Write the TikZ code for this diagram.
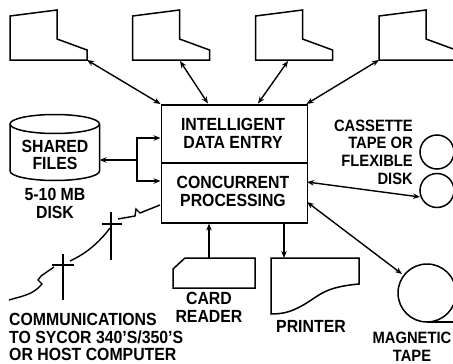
\documentclass[tikz,border=0pt]{standalone}
\usepackage{fontspec}
\setmainfont[FakeStretch=0.9]{Liberation Sans}
\usetikzlibrary{arrows.meta}
\tikzset{
  shape line/.style={line width=1.5pt},
  link/.style={line width=1.4pt,{Stealth[length=7pt,width=5.5pt]}-{Stealth[length=7pt,width=5.5pt]}},
  onelink/.style={line width=1.4pt,-{Stealth[length=7pt,width=5.5pt]}},
  plain/.style={line width=1.4pt},
  lab/.style={inner sep=0pt,font=\fontsize{17.6}{17.8}\selectfont\bfseries,align=center},
  sidelab/.style={inner sep=0pt,font=\fontsize{16.4}{17.6}\selectfont\bfseries},
  procbox/.style={draw,line width=1.6pt,minimum width=146pt,inner sep=0pt,anchor=north west},
  disc/.style={draw,circle,line width=1.5pt,inner sep=0pt}
}
\begin{document}
\begin{tikzpicture}[x=1pt,y=-1pt]
\useasboundingbox (0,0) rectangle (453,364);
\clip (0,0) rectangle (453,364);
% terminals
\foreach \n/\dx in {a/0,b/122.5,c/245.5,d/369}{
  \draw[shape line] (10+\dx,16)--(57+\dx,10)--(57+\dx,39)--(87+\dx,50)--(87+\dx,60)--(10+\dx,60)--cycle;
}
\coordinate (ta) at (87,60);
\coordinate (tb) at (180,61);
\coordinate (tc) at (288,61);
\coordinate (td) at (379,60);
% processor boxes
\node[procbox,minimum height=58pt] (ide) at (160.5,104) {};
\node[procbox,minimum height=60pt] (cp) at (160.5,162) {};
\coordinate (idea) at (160.5,104);
\coordinate (ideb) at (208,103.5);
\coordinate (idec) at (258,103.5);
\coordinate (ided) at (306.5,104);
\node[lab] (idet) at (233,133.5) {INTELLIGENT\\DATA ENTRY};
\node[lab] (cpt) at (233,191.5) {CONCURRENT\\PROCESSING};
\draw[link] (ta)--(idea);
\draw[link] (tb)--(ideb);
\draw[link] (tc)--(idec);
\draw[link] (td)--(ided);
% shared files
\coordinate (cyl) at (99.5,160);
\draw[shape line] (54.75,124) ellipse[x radius=44.75,y radius=9.5];
\draw[shape line] (10,124) -- (10,171) arc[start angle=180,end angle=0,x radius=44.75,y radius=9.5] -- (99.5,124);
\node[lab] (sf) at (55,155) {SHARED\\FILES};
\node[lab] (mb) at (55,203.5) {5-10 MB\\DISK};
\coordinate (j) at (137,160);
\coordinate (ja) at (137,138);
\coordinate (jb) at (137,181);
\draw[onelink] (j)--(cyl);
\draw[onelink] (j)--(ja)--(ja-|ide.west);
\draw[onelink] (j)--(jb)--(jb-|cp.west);
% cassette
\node[sidelab,align=right,anchor=east] (cas) at (413,152) {CASSETTE\\TAPE OR\\FLEXIBLE\\DISK};
\node[disc,minimum size=34pt] (d1) at (437,152) {};
\node[disc,minimum size=34pt] (d2) at (437,190.5) {};
\coordinate (cpe1) at (307,182);
\coordinate (cpe2) at (307,202);
\coordinate (d2w) at (420,197);
\draw[link] (cpe1)--(d2w);
% magnetic tape
\node[disc,minimum size=58pt] (mt) at (427,293) {};
\draw[shape line] (427,322)--(453,322);
\coordinate (mtw) at (402,274);
\draw[link] (cpe2)--(mtw);
\node[sidelab,align=center] (mag) at (412,346.5) {MAGNETIC\\TAPE};
% card reader
\coordinate (cr) at (209,258);
\draw[shape line] (173,269)--(185,258)--(255,258)--(255,288)--(173,288)--cycle;
\draw[onelink] (cr)--(cr|-cp.south);
\node[lab] (crt) at (209,307.5) {CARD\\READER};
% printer
\coordinate (pr) at (284,258);
\draw[shape line] (271,258)--(359,258)--(359,284) .. controls (325,287) and (320,295) .. (305,304) .. controls (293,311) and (285,314) .. (271,314)--cycle;
\draw[onelink] (pr|-cp.south)--(pr);
\node[lab] (prt) at (311,326) {PRINTER};
% communications
\draw[plain] (111,212)--(111,260);
\draw[plain] (102,224)--(122,224);
\draw[plain] (63,254)--(63,300);
\draw[plain] (52,265)--(74,265);
\coordinate (cl) at (160,205);
\draw[plain] (cl)--(140,213)--(136,209)--(135,216)--(118,219);
\draw[plain] (110,228) .. controls (98,244) and (85,254) .. (70,261);
\draw[plain] (54,267)--(41,276)--(38,280)--(42,284) .. controls (33,295) and (22,296) .. (9,300);
\node[lab,align=left,anchor=west] (com) at (9,337) {COMMUNICATIONS\\TO SYCOR 340'S/350'S\\OR HOST COMPUTER};
\end{tikzpicture}
\end{document}
